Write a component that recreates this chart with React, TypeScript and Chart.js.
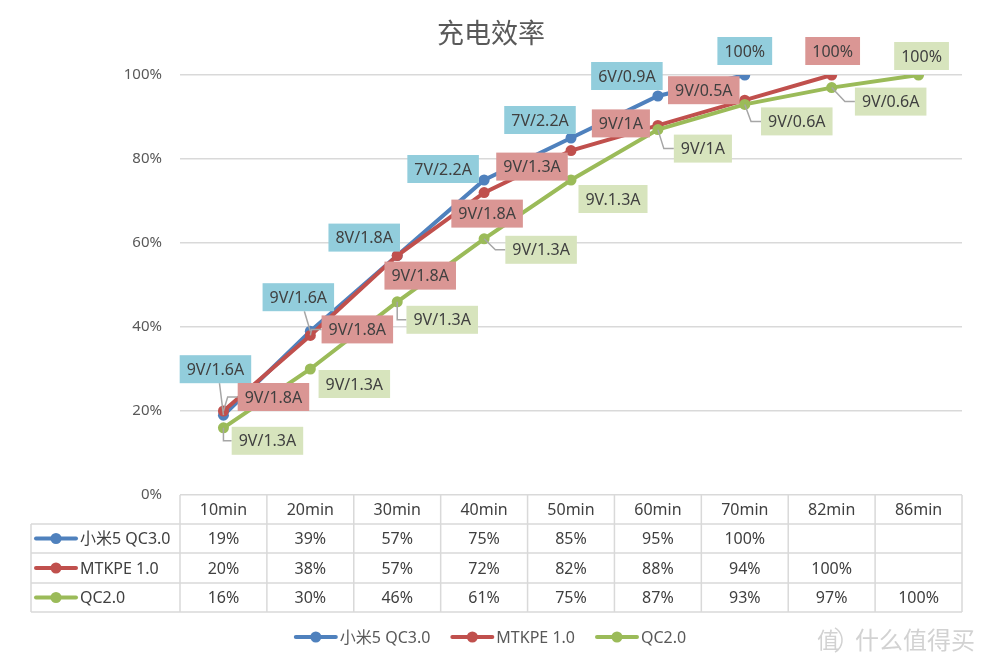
import React, { useEffect, useRef } from 'react';
import { Chart, registerables } from 'chart.js';

Chart.register(...registerables);

const categories = ['10min', '20min', '30min', '40min', '50min', '60min', '70min', '82min', '86min'];
const seriesNames = ['小米5 QC3.0', 'MTKPE 1.0', 'QC2.0'];
const mi5Values = [19, 39, 57, 75, 85, 95, 100, null, null];
const mtkpeValues = [20, 38, 57, 72, 82, 88, 94, 100, null];
const qc2Values = [16, 30, 46, 61, 75, 87, 93, 97, 100];
const mi5Labels = ['9V/1.6A', '9V/1.6A', '8V/1.8A', '7V/2.2A', '7V/2.2A', '6V/0.9A', '100%'];
const mtkpeLabels = ['9V/1.8A', '9V/1.8A', '9V/1.8A', '9V/1.8A', '9V/1.3A', '9V/1A', '9V/0.5A', '100%'];
const qc2Labels = ['9V/1.3A', '9V/1.3A', '9V/1.3A', '9V/1.3A', '9V.1.3A', '9V/1A', '9V/0.6A', '9V/0.6A', '100%'];
const yTicks = [0, 20, 40, 60, 80, 100];
const titleText = '充电效率';
const watermarkText = '什么值得买';

// label placement relative to its point: [dx, dy, leader]
const mi5LabelPos = [[-8, -46, 1], [-12, -34, 1], [-33, -18, 0], [-41, -11, 0], [-31, -18, 0], [-31, -20, 0], [0, -24, 0]];
const mtkpeLabelPos = [[50, -14, 1], [47, -6, 1], [23, 20, 0], [3, 21, 0], [-39, 16, 0], [-37, -2, 0], [-41, -10, 0], [1, -24, 0]];
const qc2LabelPos = [[44, 13, 1], [44, 15, 0], [45, 18, 1], [57, 11, 1], [42, 19, 0], [45, 19, 1], [52, 17, 1], [59, 14, 1], [3, -19, 0]];

const lineColors = ['#4F81BD', '#C0504D', '#9BBB59'];
const labelBg = ['#92CDDC', '#DA9694', '#D7E4BD'];
const textColor = '#404040';
const axisTextColor = '#595959';
const gridColor = '#D9D9D9';
const latinFont = '"Noto Sans", "Noto Sans CJK SC", sans-serif';

const allLabels = [mi5Labels, mtkpeLabels, qc2Labels];
const allLabelPos = [mi5LabelPos, mtkpeLabelPos, qc2LabelPos];
const allValues = [mi5Values, mtkpeValues, qc2Values];

const drawMarker = (ctx: CanvasRenderingContext2D, x: number, y: number, color: string) => {
  ctx.save();
  ctx.strokeStyle = color;
  ctx.fillStyle = color;
  ctx.lineWidth = 4;
  ctx.lineCap = 'round';
  ctx.beginPath();
  ctx.moveTo(x, y);
  ctx.lineTo(x + 40, y);
  ctx.stroke();
  ctx.beginPath();
  ctx.arc(x + 20, y, 5.5, 0, Math.PI * 2);
  ctx.fill();
  ctx.restore();
};

const extrasPlugin = {
  id: 'extras',
  afterDatasetsDraw(chart: any) {
    const ctx: CanvasRenderingContext2D = chart.ctx;
    ctx.save();
    ctx.font = `16px ${latinFont}`;
    ctx.textAlign = 'center';
    ctx.textBaseline = 'middle';
    for (let s = 0; s < 3; s++) {
      const meta = chart.getDatasetMeta(s);
      const labels = allLabels[s];
      const pos = allLabelPos[s];
      labels.forEach((txt, i) => {
        const el = meta.data[i];
        if (!el) return;
        const px = el.x;
        const py = el.y;
        const [dx, dy, leader] = pos[i];
        const cx = px + dx;
        const cy = py + dy;
        const w = ctx.measureText(txt).width + 14;
        const h = 28;
        const l = cx - w / 2, r = cx + w / 2, t = cy - h / 2, b = cy + h / 2;
        if (leader) {
          ctx.strokeStyle = '#A6A6A6';
          ctx.lineWidth = 1.5;
          ctx.beginPath();
          ctx.moveTo(px, py);
          if (px >= l && px <= r) {
            const ty = py > b ? b : t;
            ctx.lineTo((px + cx) / 2, ty);
          } else if (px < l) {
            const ex = Math.max(px, l - 10);
            ctx.lineTo(ex, cy);
            ctx.lineTo(l, cy);
          } else {
            const ex = Math.min(px, r + 10);
            ctx.lineTo(ex, cy);
            ctx.lineTo(r, cy);
          }
          ctx.stroke();
        }
        ctx.fillStyle = labelBg[s];
        ctx.fillRect(l, t, w, h);
        ctx.fillStyle = textColor;
        ctx.fillText(txt, cx, cy + 1);
      });
    }
    ctx.restore();
  },
  afterDraw(chart: any) {
    const ctx: CanvasRenderingContext2D = chart.ctx;
    const xs = chart.scales.x;
    const area = chart.chartArea;
    const W = chart.width;
    ctx.save();

    // title
    ctx.fillStyle = axisTextColor;
    ctx.font = '27px "Noto Sans CJK SC", sans-serif';
    ctx.textAlign = 'center';
    ctx.textBaseline = 'middle';
    ctx.fillText(titleText, W / 2, 33);

    // data table
    const colW = (area.right - area.left) / categories.length;
    const top = area.bottom;
    const rowH = 29;
    const tableLeft = 31;
    const rows = [top, top + rowH, top + rowH * 2, top + rowH * 3 + 1, top + rowH * 4 + 1];
    ctx.strokeStyle = gridColor;
    ctx.lineWidth = 1.5;
    ctx.beginPath();
    for (let k = 1; k < rows.length; k++) {
      ctx.moveTo(tableLeft, rows[k]);
      ctx.lineTo(area.right, rows[k]);
    }
    ctx.moveTo(tableLeft, rows[1]);
    ctx.lineTo(tableLeft, rows[4]);
    for (let k = 0; k <= categories.length; k++) {
      const x = area.left + k * colW;
      ctx.moveTo(x, rows[0]);
      ctx.lineTo(x, rows[4]);
    }
    ctx.stroke();

    ctx.font = `16px ${latinFont}`;
    ctx.fillStyle = textColor;
    ctx.textAlign = 'center';
    categories.forEach((c, i) => {
      const x = xs.getPixelForValue(i);
      ctx.fillText(c, x, (rows[0] + rows[1]) / 2 + 1);
      allValues.forEach((vals, s) => {
        const v = vals[i];
        if (v === null || v === undefined) return;
        ctx.fillText(`${v}%`, x, (rows[s + 1] + rows[s + 2]) / 2 + 1);
      });
    });
    ctx.textAlign = 'left';
    seriesNames.forEach((n, s) => {
      const y = (rows[s + 1] + rows[s + 2]) / 2;
      drawMarker(ctx, 36, y, lineColors[s]);
      ctx.fillStyle = textColor;
      ctx.fillText(n, 80, y + 1);
    });

    // legend
    const widths = seriesNames.map((n) => ctx.measureText(n).width);
    const total = widths.reduce((a, b) => a + b + 44, 0) + 22 * 2;
    let lx = W / 2 - total / 2;
    const ly = 637;
    seriesNames.forEach((n, s) => {
      drawMarker(ctx, lx, ly, lineColors[s]);
      ctx.fillStyle = axisTextColor;
      ctx.fillText(n, lx + 44, ly + 1);
      lx += 44 + widths[s] + 22;
    });

    // watermark
    ctx.fillStyle = '#D2D2D2';
    ctx.strokeStyle = '#D2D2D2';
    ctx.font = '22px "Noto Sans CJK SC", sans-serif';
    ctx.textAlign = 'center';
    ctx.fillText('值', 828, 640);
    ctx.lineWidth = 1.5;
    ctx.beginPath();
    ctx.arc(828, 640, 14, -Math.PI / 3, Math.PI / 3);
    ctx.stroke();
    ctx.textAlign = 'left';
    ctx.font = '24px "Noto Sans CJK SC", sans-serif';
    ctx.fillText(watermarkText, 855, 640);

    ctx.restore();
  },
};

export default function App() {
  const ref = useRef<HTMLCanvasElement | null>(null);
  useEffect(() => {
    document.body.style.margin = '0';
    if (!ref.current) return;
    const chart = new Chart(ref.current, {
      type: 'line',
      data: {
        labels: categories,
        datasets: allValues.map((vals, s) => ({
          label: seriesNames[s],
          data: vals,
          borderColor: lineColors[s],
          backgroundColor: lineColors[s],
          borderWidth: 4,
          pointRadius: 5.5,
          pointBorderWidth: 0,
          pointBackgroundColor: lineColors[s],
          fill: false,
          tension: 0,
          spanGaps: false,
          order: 3 - s,
        })),
      },
      options: {
        responsive: false,
        animation: false,
        layout: { padding: { top: 75, bottom: 171, left: 0, right: 20 } },
        plugins: {
          legend: { display: false },
          title: { display: false },
          tooltip: { enabled: false },
        },
        scales: {
          x: {
            type: 'category',
            offset: true,
            display: false,
          },
          y: {
            min: 0,
            max: 100,
            afterFit: (scale: any) => {
              scale.width = 180;
            },
            afterBuildTicks: (scale: any) => {
              scale.ticks = yTicks.map((v) => ({ value: v }));
            },
            border: { display: false },
            grid: { color: gridColor, lineWidth: 1.5, drawTicks: false },
            ticks: {
              padding: 18,
              color: axisTextColor,
              font: { size: 15, family: latinFont },
              callback: (v: any) => `${v}%`,
            },
          },
        },
      },
      plugins: [extrasPlugin],
    });
    return () => chart.destroy();
  }, []);
  return (
    <div style={{ width: 982, height: 666 }}>
      <canvas ref={ref} width={982} height={666} style={{ display: 'block' }} />
    </div>
  );
}
